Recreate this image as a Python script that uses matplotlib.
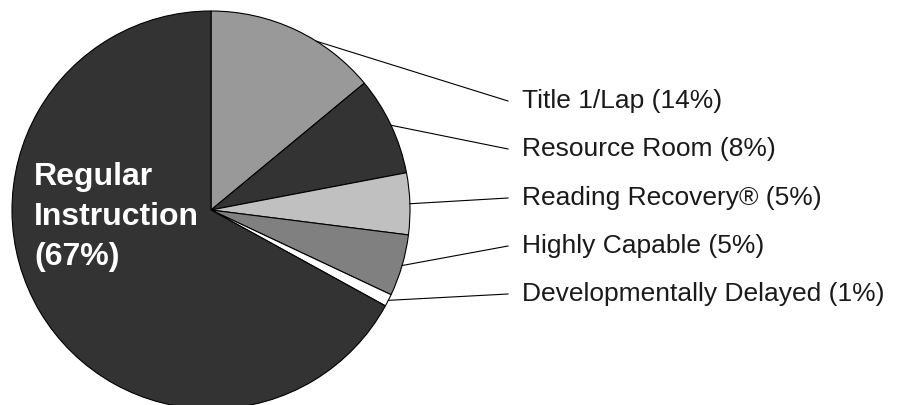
import numpy as np
import matplotlib.pyplot as plt

plt.rcParams['font.family'] = ['Liberation Sans', 'DejaVu Sans']

# ---------- Datos ----------
labels = ["Title 1/Lap", "Resource Room", "Reading Recovery®", "Highly Capable",
          "Developmentally Delayed", "Regular Instruction"]
values = [14, 8, 5, 5, 1, 67]
colors = ["#999999", "#333333", "#c0c0c0", "#808080", "#ffffff", "#333333"]

# ---------- Figura (coordenadas en pixeles, y hacia arriba) ----------
W, H = 897, 405
fig = plt.figure(figsize=(W / 100, H / 100), dpi=100)
ax = fig.add_axes([0, 0, 1, 1])

cx, cy, r = 211, H - 210, 199
wedges, _ = ax.pie(values, colors=colors, startangle=90, counterclock=False,
                   center=(cx, cy), radius=r, frame=True,
                   wedgeprops=dict(edgecolor="black", linewidth=0.8))
ax.set_xlim(0, W)
ax.set_ylim(0, H)
ax.set_aspect("equal")
ax.axis("off")

# ---------- Etiquetas externas con líneas guía ----------
label_y = [H - 101, H - 149, H - 198, H - 246, H - 294]
line_end_x = 508
text_x = 522
for w, lab, val, ly in zip(wedges[:5], labels[:5], values[:5], label_y):
    ang = np.deg2rad(0.5 * (w.theta1 + w.theta2))
    if lab.startswith("Title"):
        ang = np.deg2rad(58)
    x0 = cx + r * np.cos(ang)
    y0 = cy + r * np.sin(ang)
    ax.plot([x0, line_end_x], [y0, ly], color="black", lw=0.8)
    ax.text(text_x, ly, f"{lab} ({val}%)", fontsize=19, va="center",
            ha="left", color="#1a1a1a")

# ---------- Etiqueta interna ----------
ax.text(34, H - 217, f"Regular\nInstruction\n({values[5]}%)", color="white",
        fontsize=23, fontweight="bold", va="center", ha="left",
        linespacing=1.42)

plt.savefig("out.png", dpi=100)
